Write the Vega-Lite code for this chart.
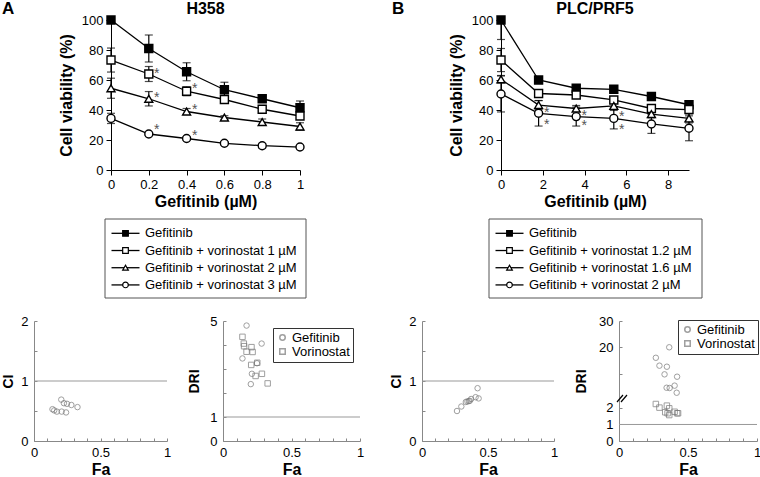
{
  "$schema": "https://vega.github.io/schema/vega-lite/v6.json",
  "autosize": {"type": "none"},
  "padding": {"left": 34, "top": 20, "right": 726, "bottom": 457},
  "background": "white",
  "config": {
    "view": {"stroke": null},
    "font": "Liberation Sans",
    "axis": {"grid": false, "domainColor": "black", "tickColor": "black", "labelColor": "black", "titleColor": "black", "labelFontSize": 13, "titleFontSize": 16, "titleFontWeight": "bold", "labelFlush": false, "labelOverlap": false, "labelFont": "Liberation Sans", "titleFont": "Liberation Sans", "format": ".1~f", "tickCount": 40},
    "text": {"font": "Liberation Sans"},
    "legend": {"labelFont": "Liberation Sans"}
  },
  "datasets": {
    "h358": [
      {"s": "Gefitinib", "x": 0, "y": 100, "lo": 100, "hi": 100},
      {"s": "Gefitinib", "x": 0.2, "y": 81, "lo": 72, "hi": 90},
      {"s": "Gefitinib", "x": 0.4, "y": 65.5, "lo": 59.5, "hi": 71.5},
      {"s": "Gefitinib", "x": 0.6, "y": 53.5, "lo": 48.5, "hi": 58.5},
      {"s": "Gefitinib", "x": 0.8, "y": 47.5, "lo": 45.5, "hi": 49.5},
      {"s": "Gefitinib", "x": 1, "y": 41.5, "lo": 37, "hi": 46},
      {"s": "Gefitinib + vorinostat 1 µM", "x": 0, "y": 73.3, "lo": 65.3, "hi": 81.3},
      {"s": "Gefitinib + vorinostat 1 µM", "x": 0.2, "y": 64, "lo": 59, "hi": 69},
      {"s": "Gefitinib + vorinostat 1 µM", "x": 0.4, "y": 52.5, "lo": 49.5, "hi": 55.5},
      {"s": "Gefitinib + vorinostat 1 µM", "x": 0.6, "y": 47, "lo": 45.5, "hi": 48.5},
      {"s": "Gefitinib + vorinostat 1 µM", "x": 0.8, "y": 40.5, "lo": 39, "hi": 42},
      {"s": "Gefitinib + vorinostat 1 µM", "x": 1, "y": 36, "lo": 34, "hi": 38},
      {"s": "Gefitinib + vorinostat 2 µM", "x": 0, "y": 54.5, "lo": 47.8, "hi": 61.2},
      {"s": "Gefitinib + vorinostat 2 µM", "x": 0.2, "y": 47.5, "lo": 42.7, "hi": 52.3},
      {"s": "Gefitinib + vorinostat 2 µM", "x": 0.4, "y": 39, "lo": 37, "hi": 41},
      {"s": "Gefitinib + vorinostat 2 µM", "x": 0.6, "y": 35, "lo": 33.8, "hi": 36.2},
      {"s": "Gefitinib + vorinostat 2 µM", "x": 0.8, "y": 32, "lo": 30, "hi": 34},
      {"s": "Gefitinib + vorinostat 2 µM", "x": 1, "y": 29, "lo": 26.5, "hi": 31.5},
      {"s": "Gefitinib + vorinostat 3 µM", "x": 0, "y": 34.4, "lo": 31, "hi": 37.8},
      {"s": "Gefitinib + vorinostat 3 µM", "x": 0.2, "y": 24, "lo": 23, "hi": 25},
      {"s": "Gefitinib + vorinostat 3 µM", "x": 0.4, "y": 21, "lo": 20, "hi": 22},
      {"s": "Gefitinib + vorinostat 3 µM", "x": 0.6, "y": 17.8, "lo": 16.8, "hi": 18.8},
      {"s": "Gefitinib + vorinostat 3 µM", "x": 0.8, "y": 16.2, "lo": 14.7, "hi": 17.7},
      {"s": "Gefitinib + vorinostat 3 µM", "x": 1, "y": 15.3, "lo": 14.3, "hi": 16.3}
    ],
    "plc": [
      {"s": "Gefitinib", "x": 0, "y": 100, "lo": 87, "hi": 100},
      {"s": "Gefitinib", "x": 1.8, "y": 60, "lo": 58, "hi": 62},
      {"s": "Gefitinib", "x": 3.6, "y": 54.5, "lo": 52.5, "hi": 56.5},
      {"s": "Gefitinib", "x": 5.4, "y": 53.8, "lo": 51.5, "hi": 56.1},
      {"s": "Gefitinib", "x": 7.2, "y": 49, "lo": 47, "hi": 51},
      {"s": "Gefitinib", "x": 9, "y": 43.5, "lo": 41, "hi": 46},
      {"s": "Gefitinib + vorinostat 1.2 µM", "x": 0, "y": 73.3, "lo": 65.6, "hi": 81},
      {"s": "Gefitinib + vorinostat 1.2 µM", "x": 1.8, "y": 51, "lo": 49, "hi": 53},
      {"s": "Gefitinib + vorinostat 1.2 µM", "x": 3.6, "y": 50, "lo": 48, "hi": 52},
      {"s": "Gefitinib + vorinostat 1.2 µM", "x": 5.4, "y": 46.7, "lo": 44.7, "hi": 48.7},
      {"s": "Gefitinib + vorinostat 1.2 µM", "x": 7.2, "y": 41, "lo": 39, "hi": 43},
      {"s": "Gefitinib + vorinostat 1.2 µM", "x": 9, "y": 40.3, "lo": 38.3, "hi": 42.3},
      {"s": "Gefitinib + vorinostat 1.6 µM", "x": 0, "y": 60.5, "lo": 58, "hi": 63},
      {"s": "Gefitinib + vorinostat 1.6 µM", "x": 1.8, "y": 43.3, "lo": 40.3, "hi": 46.3},
      {"s": "Gefitinib + vorinostat 1.6 µM", "x": 3.6, "y": 41, "lo": 39, "hi": 43},
      {"s": "Gefitinib + vorinostat 1.6 µM", "x": 5.4, "y": 42.7, "lo": 39.7, "hi": 45.7},
      {"s": "Gefitinib + vorinostat 1.6 µM", "x": 7.2, "y": 37.3, "lo": 34.8, "hi": 39.8},
      {"s": "Gefitinib + vorinostat 1.6 µM", "x": 9, "y": 34.4, "lo": 31.4, "hi": 37.4},
      {"s": "Gefitinib + vorinostat 2 µM", "x": 0, "y": 50.7, "lo": 38.7, "hi": 62.7},
      {"s": "Gefitinib + vorinostat 2 µM", "x": 1.8, "y": 37.8, "lo": 29.3, "hi": 46.3},
      {"s": "Gefitinib + vorinostat 2 µM", "x": 3.6, "y": 35.6, "lo": 29.3, "hi": 41.9},
      {"s": "Gefitinib + vorinostat 2 µM", "x": 5.4, "y": 34.4, "lo": 27.4, "hi": 41.4},
      {"s": "Gefitinib + vorinostat 2 µM", "x": 7.2, "y": 30.7, "lo": 24.4, "hi": 37},
      {"s": "Gefitinib + vorinostat 2 µM", "x": 9, "y": 27.8, "lo": 19.5, "hi": 36.1}
    ],
    "h358star": [
      {"x": 0.2, "y": 66}, {"x": 0.4, "y": 56},
      {"x": 0.2, "y": 50}, {"x": 0.4, "y": 42.2},
      {"x": 0.2, "y": 28.9}, {"x": 0.4, "y": 24.9}
    ],
    "plcstar": [
      {"x": 1.8, "y": 40}, {"x": 1.8, "y": 32.2},
      {"x": 3.6, "y": 38.2}, {"x": 3.6, "y": 31.5},
      {"x": 5.4, "y": 37.1}, {"x": 5.4, "y": 28.9}
    ],
    "legA": [
      {"s": "Gefitinib", "r": 1},
      {"s": "Gefitinib + vorinostat 1 µM", "r": 2},
      {"s": "Gefitinib + vorinostat 2 µM", "r": 3},
      {"s": "Gefitinib + vorinostat 3 µM", "r": 4}
    ],
    "legB": [
      {"s": "Gefitinib", "r": 1},
      {"s": "Gefitinib + vorinostat 1.2 µM", "r": 2},
      {"s": "Gefitinib + vorinostat 1.6 µM", "r": 3},
      {"s": "Gefitinib + vorinostat 2 µM", "r": 4}
    ],
    "ci1": [
      {"fa": 0.205, "ci": 0.69}, {"fa": 0.225, "ci": 0.63}, {"fa": 0.248, "ci": 0.62}, {"fa": 0.281, "ci": 0.6}, {"fa": 0.327, "ci": 0.565},
      {"fa": 0.139, "ci": 0.53}, {"fa": 0.152, "ci": 0.51}, {"fa": 0.172, "ci": 0.49}, {"fa": 0.208, "ci": 0.49}, {"fa": 0.241, "ci": 0.476}
    ],
    "ci2": [
      {"fa": 0.265, "ci": 0.5}, {"fa": 0.298, "ci": 0.575}, {"fa": 0.332, "ci": 0.65}, {"fa": 0.344, "ci": 0.66}, {"fa": 0.362, "ci": 0.67},
      {"fa": 0.372, "ci": 0.7}, {"fa": 0.406, "ci": 0.73}, {"fa": 0.429, "ci": 0.71}, {"fa": 0.421, "ci": 0.88}, {"fa": 0.355, "ci": 0.665}
    ],
    "dri1": [
      {"drug": "Gefitinib", "fa": 0.172, "dri": 4.81}, {"drug": "Gefitinib", "fa": 0.282, "dri": 4.06}, {"drug": "Gefitinib", "fa": 0.142, "dri": 3.44},
      {"drug": "Gefitinib", "fa": 0.248, "dri": 3.24}, {"drug": "Gefitinib", "fa": 0.211, "dri": 2.8}, {"drug": "Gefitinib", "fa": 0.203, "dri": 2.37},
      {"drug": "Vorinostat", "fa": 0.142, "dri": 4.34}, {"drug": "Vorinostat", "fa": 0.152, "dri": 4.06}, {"drug": "Vorinostat", "fa": 0.154, "dri": 3.95},
      {"drug": "Vorinostat", "fa": 0.172, "dri": 3.72}, {"drug": "Vorinostat", "fa": 0.216, "dri": 3.71}, {"drug": "Vorinostat", "fa": 0.208, "dri": 3.91},
      {"drug": "Vorinostat", "fa": 0.206, "dri": 3.17}, {"drug": "Vorinostat", "fa": 0.25, "dri": 3.26}, {"drug": "Vorinostat", "fa": 0.284, "dri": 2.8},
      {"drug": "Vorinostat", "fa": 0.238, "dri": 2.71}, {"drug": "Vorinostat", "fa": 0.326, "dri": 2.4}
    ],
    "dri2": [
      {"drug": "Gefitinib", "fa": 0.364, "dri": 20}, {"drug": "Gefitinib", "fa": 0.267, "dri": 16}, {"drug": "Gefitinib", "fa": 0.293, "dri": 13},
      {"drug": "Gefitinib", "fa": 0.347, "dri": 12.6}, {"drug": "Gefitinib", "fa": 0.33, "dri": 9.7}, {"drug": "Gefitinib", "fa": 0.421, "dri": 8.8},
      {"drug": "Gefitinib", "fa": 0.345, "dri": 4.6}, {"drug": "Gefitinib", "fa": 0.367, "dri": 4.5}, {"drug": "Gefitinib", "fa": 0.403, "dri": 5.4},
      {"drug": "Gefitinib", "fa": 0.418, "dri": 2.7},
      {"drug": "Vorinostat", "fa": 0.267, "dri": 2.24}, {"drug": "Vorinostat", "fa": 0.293, "dri": 2.02}, {"drug": "Vorinostat", "fa": 0.347, "dri": 2.14},
      {"drug": "Vorinostat", "fa": 0.364, "dri": 1.98}, {"drug": "Vorinostat", "fa": 0.335, "dri": 1.74}, {"drug": "Vorinostat", "fa": 0.352, "dri": 1.68},
      {"drug": "Vorinostat", "fa": 0.364, "dri": 1.57}, {"drug": "Vorinostat", "fa": 0.403, "dri": 1.77}, {"drug": "Vorinostat", "fa": 0.421, "dri": 1.68},
      {"drug": "Vorinostat", "fa": 0.428, "dri": 1.68}
    ]
  },
  "columns": 7,
  "bounds": "flush",
  "align": "each",
  "spacing": {"row": 23, "column": 27},
  "resolve": {"scale": {"x": "independent", "y": "independent", "shape": "independent", "fill": "independent"}, "legend": {"shape": "independent"}},
  "concat": [
    {
      "width": 133, "height": 150,
      "data": {"name": "h358"},
      "layer": [
        {"mark": {"type": "line", "color": "black", "strokeWidth": 1.3},
         "encoding": {
           "x": {"field": "x", "type": "quantitative", "scale": {"domain": [0, 1], "range": [77, 266], "nice": false},
                 "axis": {"values": [0, 0.2, 0.4, 0.6, 0.8, 1], "title": "Gefitinib (µM)", "tickSize": 5, "labelPadding": 3, "titlePadding": 2}},
           "y": {"field": "y", "type": "quantitative", "scale": {"domain": [0, 100], "nice": false},
                 "axis": {"values": [0, 20, 40, 60, 80, 100], "title": "Cell viability (%)", "tickSize": 5, "labelPadding": 3, "titlePadding": 7, "offset": -77}},
           "detail": {"field": "s"}}},
        {"mark": {"type": "rule", "color": "black", "strokeWidth": 1.2},
         "encoding": {"x": {"field": "x", "type": "quantitative"}, "y": {"field": "lo", "type": "quantitative"}, "y2": {"field": "hi"}}},
        {"mark": {"type": "tick", "orient": "horizontal", "color": "black", "size": 8, "thickness": 1.2},
         "encoding": {"x": {"field": "x", "type": "quantitative"}, "y": {"field": "lo", "type": "quantitative"}}},
        {"mark": {"type": "tick", "orient": "horizontal", "color": "black", "size": 8, "thickness": 1.2},
         "encoding": {"x": {"field": "x", "type": "quantitative"}, "y": {"field": "hi", "type": "quantitative"}}},
        {"mark": {"type": "point", "filled": true, "stroke": "black", "strokeWidth": 1.4, "size": 64, "opacity": 1},
         "encoding": {
           "x": {"field": "x", "type": "quantitative"}, "y": {"field": "y", "type": "quantitative"},
           "shape": {"field": "s", "type": "nominal", "legend": null, "scale": {"domain": ["Gefitinib", "Gefitinib + vorinostat 1 µM", "Gefitinib + vorinostat 2 µM", "Gefitinib + vorinostat 3 µM"], "range": ["square", "square", "triangle-up", "circle"]}},
           "fill": {"field": "s", "type": "nominal", "legend": null, "scale": {"domain": ["Gefitinib", "Gefitinib + vorinostat 1 µM", "Gefitinib + vorinostat 2 µM", "Gefitinib + vorinostat 3 µM"], "range": ["black", "white", "white", "white"]}}}},
        {"data": {"name": "h358star"},
         "mark": {"type": "text", "text": "*", "fontSize": 14, "fill": "#555", "dx": 8, "dy": 3, "align": "center", "baseline": "middle"},
         "encoding": {"x": {"field": "x", "type": "quantitative"}, "y": {"field": "y", "type": "quantitative"}}},
        {"data": {"values": [{}]},
         "mark": {"type": "text", "text": "H358", "fontSize": 16, "fontWeight": "bold", "fill": "black", "align": "center", "baseline": "alphabetic"},
         "encoding": {"x": {"datum": 0.5, "type": "quantitative"}, "y": {"datum": 104, "type": "quantitative"}}},
        {"data": {"values": [{}]},
         "mark": {"type": "text", "text": "A", "fontSize": 17, "fontWeight": "bold", "fill": "black", "align": "left", "baseline": "alphabetic"},
         "encoding": {"x": {"datum": -0.577, "type": "quantitative"}, "y": {"datum": 104, "type": "quantitative"}}}
      ]
    },
    {"width": 1, "height": 1, "data": {"values": []}, "mark": "point"},
    {"width": 1, "height": 1, "data": {"values": []}, "mark": "point"},
    {"width": 1, "height": 1, "data": {"values": []}, "mark": "point"},
    {
      "width": 132, "height": 150,
      "data": {"name": "plc"},
      "layer": [
        {"mark": {"type": "line", "color": "black", "strokeWidth": 1.3},
         "encoding": {
           "x": {"field": "x", "type": "quantitative", "scale": {"domain": [0, 9], "range": [79, 267], "nice": false},
                 "axis": {"values": [0, 2, 4, 6, 8], "title": "Gefitinib (µM)", "tickSize": 5, "labelPadding": 3, "titlePadding": 2}},
           "y": {"field": "y", "type": "quantitative", "scale": {"domain": [0, 100], "nice": false},
                 "axis": {"values": [0, 20, 40, 60, 80, 100], "title": "Cell viability (%)", "tickSize": 5, "labelPadding": 3, "titlePadding": 7, "offset": -79}},
           "detail": {"field": "s"}}},
        {"mark": {"type": "rule", "color": "black", "strokeWidth": 1.2},
         "encoding": {"x": {"field": "x", "type": "quantitative"}, "y": {"field": "lo", "type": "quantitative"}, "y2": {"field": "hi"}}},
        {"mark": {"type": "tick", "orient": "horizontal", "color": "black", "size": 8, "thickness": 1.2},
         "encoding": {"x": {"field": "x", "type": "quantitative"}, "y": {"field": "lo", "type": "quantitative"}}},
        {"mark": {"type": "tick", "orient": "horizontal", "color": "black", "size": 8, "thickness": 1.2},
         "encoding": {"x": {"field": "x", "type": "quantitative"}, "y": {"field": "hi", "type": "quantitative"}}},
        {"mark": {"type": "point", "filled": true, "stroke": "black", "strokeWidth": 1.4, "size": 64, "opacity": 1},
         "encoding": {
           "x": {"field": "x", "type": "quantitative"}, "y": {"field": "y", "type": "quantitative"},
           "shape": {"field": "s", "type": "nominal", "legend": null, "scale": {"domain": ["Gefitinib", "Gefitinib + vorinostat 1.2 µM", "Gefitinib + vorinostat 1.6 µM", "Gefitinib + vorinostat 2 µM"], "range": ["square", "square", "triangle-up", "circle"]}},
           "fill": {"field": "s", "type": "nominal", "legend": null, "scale": {"domain": ["Gefitinib", "Gefitinib + vorinostat 1.2 µM", "Gefitinib + vorinostat 1.6 µM", "Gefitinib + vorinostat 2 µM"], "range": ["black", "white", "white", "white"]}}}},
        {"data": {"name": "plcstar"},
         "mark": {"type": "text", "text": "*", "fontSize": 14, "fill": "#555", "dx": 8, "dy": 3, "align": "center", "baseline": "middle"},
         "encoding": {"x": {"field": "x", "type": "quantitative"}, "y": {"field": "y", "type": "quantitative"}}},
        {"data": {"values": [{}]},
         "mark": {"type": "text", "text": "PLC/PRF5", "fontSize": 16, "fontWeight": "bold", "fill": "black", "align": "center", "baseline": "alphabetic"},
         "encoding": {"x": {"datum": 4.5, "type": "quantitative"}, "y": {"datum": 104, "type": "quantitative"}}},
        {"data": {"values": [{}]},
         "mark": {"type": "text", "text": "B", "fontSize": 17, "fontWeight": "bold", "fill": "black", "align": "left", "baseline": "alphabetic"},
         "encoding": {"x": {"datum": -5.22, "type": "quantitative"}, "y": {"datum": 104, "type": "quantitative"}}}
      ]
    },
    {"width": 1, "height": 1, "data": {"values": []}, "mark": "point"},
    {"width": 1, "height": 1, "data": {"values": []}, "mark": "point"},

    {
      "width": 133, "height": 105,
      "data": {"name": "legA"},
      "layer": [
        {"data": {"values": [{}]},
         "mark": {"type": "rect", "filled": false, "stroke": "#555", "strokeWidth": 1},
         "encoding": {
           "x": {"datum": 0, "type": "quantitative", "scale": {"domain": [0, 201], "range": [71, 272], "nice": false, "zero": false}, "axis": null},
           "x2": {"datum": 201},
           "y": {"datum": 0.169, "type": "quantitative", "scale": {"domain": [-1.343, 4.76], "reverse": true, "nice": false, "zero": false}, "axis": null},
           "y2": {"datum": 4.76}}},
        {"mark": {"type": "rule", "color": "black", "strokeWidth": 1.3},
         "encoding": {"x": {"datum": 6.5, "type": "quantitative"}, "x2": {"datum": 34.5}, "y": {"field": "r", "type": "quantitative"}}},
        {"mark": {"type": "point", "filled": true, "stroke": "black", "strokeWidth": 1.2, "size": 32, "opacity": 1},
         "encoding": {
           "x": {"datum": 20.5, "type": "quantitative"},
           "y": {"field": "r", "type": "quantitative"},
           "shape": {"field": "s", "type": "nominal", "legend": null, "scale": {"domain": ["Gefitinib", "Gefitinib + vorinostat 1 µM", "Gefitinib + vorinostat 2 µM", "Gefitinib + vorinostat 3 µM"], "range": ["square", "square", "triangle-up", "circle"]}},
           "fill": {"field": "s", "type": "nominal", "legend": null, "scale": {"domain": ["Gefitinib", "Gefitinib + vorinostat 1 µM", "Gefitinib + vorinostat 2 µM", "Gefitinib + vorinostat 3 µM"], "range": ["black", "white", "white", "white"]}}}},
        {"mark": {"type": "text", "align": "left", "baseline": "middle", "fontSize": 13, "fill": "black"},
         "encoding": {"x": {"datum": 40, "type": "quantitative"}, "y": {"field": "r", "type": "quantitative"}, "text": {"field": "s"}}}
      ]
    },
    {"width": 1, "height": 1, "data": {"values": []}, "mark": "point"},
    {"width": 1, "height": 1, "data": {"values": []}, "mark": "point"},
    {"width": 1, "height": 1, "data": {"values": []}, "mark": "point"},
    {
      "width": 132, "height": 105,
      "data": {"name": "legB"},
      "layer": [
        {"data": {"values": [{}]},
         "mark": {"type": "rect", "filled": false, "stroke": "#555", "strokeWidth": 1},
         "encoding": {
           "x": {"datum": 0, "type": "quantitative", "scale": {"domain": [0, 213], "range": [67, 280], "nice": false, "zero": false}, "axis": null},
           "x2": {"datum": 213},
           "y": {"datum": 0.169, "type": "quantitative", "scale": {"domain": [-1.343, 4.76], "reverse": true, "nice": false, "zero": false}, "axis": null},
           "y2": {"datum": 4.76}}},
        {"mark": {"type": "rule", "color": "black", "strokeWidth": 1.3},
         "encoding": {"x": {"datum": 6.5, "type": "quantitative"}, "x2": {"datum": 34.5}, "y": {"field": "r", "type": "quantitative"}}},
        {"mark": {"type": "point", "filled": true, "stroke": "black", "strokeWidth": 1.2, "size": 32, "opacity": 1},
         "encoding": {
           "x": {"datum": 20.5, "type": "quantitative"},
           "y": {"field": "r", "type": "quantitative"},
           "shape": {"field": "s", "type": "nominal", "legend": null, "scale": {"domain": ["Gefitinib", "Gefitinib + vorinostat 1.2 µM", "Gefitinib + vorinostat 1.6 µM", "Gefitinib + vorinostat 2 µM"], "range": ["square", "square", "triangle-up", "circle"]}},
           "fill": {"field": "s", "type": "nominal", "legend": null, "scale": {"domain": ["Gefitinib", "Gefitinib + vorinostat 1.2 µM", "Gefitinib + vorinostat 1.6 µM", "Gefitinib + vorinostat 2 µM"], "range": ["black", "white", "white", "white"]}}}},
        {"mark": {"type": "text", "align": "left", "baseline": "middle", "fontSize": 13, "fill": "black"},
         "encoding": {"x": {"datum": 40, "type": "quantitative"}, "y": {"field": "r", "type": "quantitative"}, "text": {"field": "s"}}}
      ]
    },
    {"width": 1, "height": 1, "data": {"values": []}, "mark": "point"},
    {"width": 1, "height": 1, "data": {"values": []}, "mark": "point"},

    {
      "width": 133, "height": 120,
      "layer": [
        {"data": {"values": [{}]}, "mark": {"type": "rule", "color": "#999", "strokeWidth": 1},
         "encoding": {"y": {"datum": 1, "type": "quantitative"}}},
        {"data": {"name": "ci1"},
         "mark": {"type": "point", "filled": false, "stroke": "#777", "strokeWidth": 1, "size": 30},
         "encoding": {
           "x": {"field": "fa", "type": "quantitative", "scale": {"domain": [0, 1], "nice": false},
                 "axis": {"values": [0, 0.1, 0.2, 0.3, 0.4, 0.5, 0.6, 0.7, 0.8, 0.9, 1], "labelExpr": "datum.value == 0 || datum.value == 0.5 || datum.value == 1 ? datum.label : ''", "title": "Fa", "tickSize": -3, "labelPadding": 8, "titlePadding": 2, "domainColor": "#888", "tickColor": "#888"}},
           "y": {"field": "ci", "type": "quantitative", "scale": {"domain": [0, 2], "nice": false},
                 "axis": {"values": [0, 0.5, 1, 1.5, 2], "labelExpr": "datum.value % 1 === 0 ? datum.label : ''", "title": "CI", "titleFontSize": 14, "tickSize": -3, "labelPadding": 9, "titlePadding": 5, "domainColor": "#888", "tickColor": "#888"}}}}
      ]
    },
    {"width": 2, "height": 1, "data": {"values": []}, "mark": "point"},
    {
      "width": 137, "height": 120,
      "layer": [
        {"data": {"values": [{}]}, "mark": {"type": "rule", "color": "#999", "strokeWidth": 1},
         "encoding": {"y": {"datum": 1, "type": "quantitative"}}},
        {"data": {"name": "dri1"},
         "mark": {"type": "point", "filled": false, "stroke": "#777", "strokeWidth": 1, "size": 30},
         "encoding": {
           "x": {"field": "fa", "type": "quantitative", "scale": {"domain": [0, 1], "nice": false},
                 "axis": {"values": [0, 0.1, 0.2, 0.3, 0.4, 0.5, 0.6, 0.7, 0.8, 0.9, 1], "labelExpr": "datum.value == 0 || datum.value == 0.5 || datum.value == 1 ? datum.label : ''", "title": "Fa", "tickSize": -3, "labelPadding": 8, "titlePadding": 2, "domainColor": "#888", "tickColor": "#888"}},
           "y": {"field": "dri", "type": "quantitative", "scale": {"domain": [0, 5], "nice": false},
                 "axis": {"values": [0, 1, 2, 3, 4, 5], "labelExpr": "datum.value == 0 || datum.value == 1 || datum.value == 5 ? datum.label : ''", "title": "DRI", "titleFontSize": 14, "tickSize": -3, "labelPadding": 9, "titlePadding": 8, "domainColor": "#888", "tickColor": "#888"}},
           "shape": {"field": "drug", "type": "nominal", "scale": {"domain": ["Gefitinib", "Vorinostat"], "range": ["circle", "square"]},
                     "legend": {"title": null, "orient": "none", "legendX": 50, "legendY": 7, "strokeColor": "#333", "padding": 3, "labelFontSize": 13, "labelColor": "black", "symbolSize": 30, "rowPadding": 0, "labelOffset": 3}}}}
      ]
    },
    {"width": 8, "height": 1, "data": {"values": []}, "mark": "point"},
    {
      "width": 132, "height": 120,
      "layer": [
        {"data": {"values": [{}]}, "mark": {"type": "rule", "color": "#999", "strokeWidth": 1},
         "encoding": {"y": {"datum": 1, "type": "quantitative"}}},
        {"data": {"name": "ci2"},
         "mark": {"type": "point", "filled": false, "stroke": "#777", "strokeWidth": 1, "size": 30},
         "encoding": {
           "x": {"field": "fa", "type": "quantitative", "scale": {"domain": [0, 1], "nice": false},
                 "axis": {"values": [0, 0.1, 0.2, 0.3, 0.4, 0.5, 0.6, 0.7, 0.8, 0.9, 1], "labelExpr": "datum.value == 0 || datum.value == 0.5 || datum.value == 1 ? datum.label : ''", "title": "Fa", "tickSize": -3, "labelPadding": 8, "titlePadding": 2, "domainColor": "#888", "tickColor": "#888"}},
           "y": {"field": "ci", "type": "quantitative", "scale": {"domain": [0, 2], "nice": false},
                 "axis": {"values": [0, 0.5, 1, 1.5, 2], "labelExpr": "datum.value % 1 === 0 ? datum.label : ''", "title": "CI", "titleFontSize": 14, "tickSize": -3, "labelPadding": 9, "titlePadding": 5, "domainColor": "#888", "tickColor": "#888"}}}}
      ]
    },
    {"width": 11, "height": 1, "data": {"values": []}, "mark": "point"},
    {
      "width": 138, "height": 120,
      "layer": [
        {"data": {"values": [{}]}, "mark": {"type": "rule", "color": "#999", "strokeWidth": 1},
         "encoding": {"y": {"datum": 1, "type": "quantitative"}}},
        {"data": {"name": "dri2"},
         "mark": {"type": "point", "filled": false, "stroke": "#777", "strokeWidth": 1, "size": 30},
         "encoding": {
           "x": {"field": "fa", "type": "quantitative", "scale": {"domain": [0, 1], "nice": false},
                 "axis": {"values": [0, 0.1, 0.2, 0.3, 0.4, 0.5, 0.6, 0.7, 0.8, 0.9, 1], "labelExpr": "datum.value == 0 || datum.value == 0.5 || datum.value == 1 ? datum.label : ''", "title": "Fa", "tickSize": -3, "labelPadding": 8, "titlePadding": 2, "domainColor": "#888", "tickColor": "#888"}},
           "y": {"field": "dri", "type": "quantitative", "scale": {"domain": [0, 2.3, 2.6, 30], "range": [120, 82, 72, 0], "nice": false, "zero": false},
                 "axis": {"values": [0, 1, 2, 10, 20, 30], "labelExpr": "datum.value == 10 ? '' : datum.label", "title": "DRI", "titleFontSize": 14, "tickSize": -3, "labelPadding": 9, "titlePadding": 10, "domainColor": "#888", "tickColor": "#888"}},
           "shape": {"field": "drug", "type": "nominal", "scale": {"domain": ["Gefitinib", "Vorinostat"], "range": ["circle", "square"]},
                     "legend": {"title": null, "orient": "none", "legendX": 59, "legendY": -1, "strokeColor": "#333", "padding": 3, "labelFontSize": 13, "labelColor": "black", "symbolSize": 30, "rowPadding": 0, "labelOffset": 3}}}},
        {"data": {"values": [{}]}, "mark": {"type": "rule", "color": "black", "strokeWidth": 1.2},
         "encoding": {"x": {"datum": -0.0145, "type": "quantitative"}, "y": {"datum": 2.33, "type": "quantitative"}, "x2": {"datum": 0.029}, "y2": {"datum": 2.54}}},
        {"data": {"values": [{}]}, "mark": {"type": "rule", "color": "black", "strokeWidth": 1.2},
         "encoding": {"x": {"datum": 0.0145, "type": "quantitative"}, "y": {"datum": 2.33, "type": "quantitative"}, "x2": {"datum": 0.058}, "y2": {"datum": 2.54}}}
      ]
    }
  ]
}
